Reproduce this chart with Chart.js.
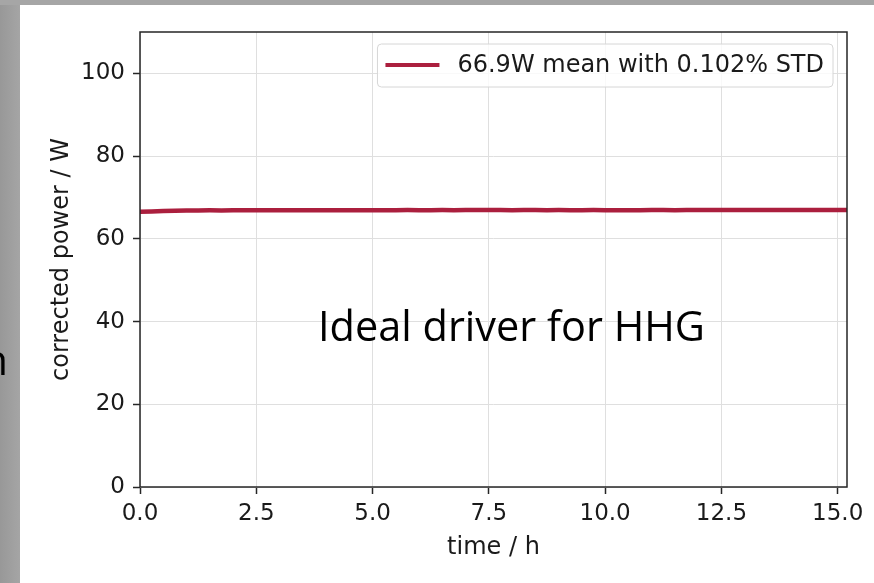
<!DOCTYPE html>
<html>
<head>
<meta charset="utf-8">
<script src="https://cdn.jsdelivr.net/npm/chart.js@4"></script>
<style>
  body { margin: 0; width: 874px; height: 583px; overflow: hidden;
         background: linear-gradient(to right, #989898 0px, #a5a5a5 20px); }
  #panel { position: absolute; left: 20px; top: 5px; right: 0; bottom: 0; background: #fff; }
  #topstrip { position: absolute; left: 0; top: 0; right: 0; height: 5px; background: #a6a6a6; }
  #c { position: absolute; left: 0; top: 0; }
</style>
</head>
<body>
<div id="topstrip"></div>
<div id="panel"></div>
<canvas id="c" width="874" height="583"></canvas>
<script>
// time / h
const times = [0, 0.25, 0.5, 0.75, 1, 1.25, 1.5, 1.75, 2, 2.25,
  2.5, 2.75, 3, 3.25, 3.5, 3.75, 4, 4.25, 4.5, 4.75,
  5, 5.25, 5.5, 5.75, 6, 6.25, 6.5, 6.75, 7, 7.25,
  7.5, 7.75, 8, 8.25, 8.5, 8.75, 9, 9.25, 9.5, 9.75,
  10, 10.25, 10.5, 10.75, 11, 11.25, 11.5, 11.75, 12, 12.25,
  12.5, 12.75, 13, 13.25, 13.5, 13.75, 14, 14.25, 14.5, 14.75,
  15, 15.25];

// corrected power / W
const power = [66.55, 66.62, 66.70, 66.78, 66.82, 66.85, 66.88, 66.86, 66.90, 66.89,
  66.91, 66.88, 66.90, 66.92, 66.89, 66.91, 66.90, 66.88, 66.90, 66.93,
  66.91, 66.89, 66.92, 66.94, 66.90, 66.92, 66.95, 66.93, 66.96, 66.94,
  66.97, 66.95, 66.93, 66.96, 66.94, 66.92, 66.95, 66.93, 66.91, 66.94,
  66.92, 66.90, 66.93, 66.91, 66.94, 66.96, 66.93, 66.95, 66.97, 66.95,
  66.98, 66.96, 66.94, 66.97, 66.95, 66.98, 66.96, 66.99, 66.97, 66.95,
  66.98, 66.96];

const seriesLabel = '66.9W mean with 0.102% STD';
const lineColor = '#ab1f3e';
const annotationText = 'Ideal driver for HHG';

const points = times.map((t, i) => ({ x: t, y: power[i] }));

// legend box, frame, text overlay
const decor = {
  id: 'decor',
  afterDraw(chart) {
    const ctx = chart.ctx;
    const a = chart.chartArea;

    // legend
    ctx.save();
    ctx.font = '24px "DejaVu Sans"';
    const tw = ctx.measureText(seriesLabel).width;
    const boxRight = a.right - 14;
    const textX = boxRight - 9 - tw;
    const lineEnd = textX - 18;
    const lineStart = lineEnd - 54;
    const boxLeft = lineStart - 8;
    const boxTop = a.top + 12;
    const rowY = a.top + 33;
    ctx.beginPath();
    ctx.roundRect(boxLeft, boxTop, boxRight - boxLeft, 43, 4);
    ctx.fillStyle = 'rgba(255,255,255,0.8)';
    ctx.fill();
    ctx.strokeStyle = '#d6d6d6';
    ctx.lineWidth = 1;
    ctx.stroke();
    ctx.beginPath();
    ctx.moveTo(lineStart, rowY);
    ctx.lineTo(lineEnd, rowY);
    ctx.strokeStyle = lineColor;
    ctx.lineWidth = 4;
    ctx.stroke();
    ctx.fillStyle = '#1a1a1a';
    ctx.textBaseline = 'middle';
    ctx.fillText(seriesLabel, textX, rowY + 1);
    ctx.restore();

    // frame
    ctx.save();
    ctx.strokeStyle = '#262626';
    ctx.lineWidth = 1.5;
    ctx.strokeRect(a.left, a.top, a.right - a.left, a.bottom - a.top);
    ctx.restore();

    // slide text on top of the plot
    ctx.save();
    ctx.font = '42px "Open Sans"';
    ctx.fillStyle = '#000';
    ctx.textBaseline = 'alphabetic';
    const w = ctx.measureText(annotationText).width;
    ctx.translate(318, 341);
    ctx.scale(387 / w, 1);
    ctx.fillText(annotationText, 0, 0);
    ctx.restore();

    // cut-off letter at the left edge of the slide
    ctx.save();
    ctx.font = '42px "Open Sans"';
    ctx.fillStyle = '#000';
    ctx.textAlign = 'right';
    ctx.fillText('n', 8, 375);
    ctx.restore();
  }
};

const ctx = document.getElementById('c').getContext('2d');
const chart = new Chart(ctx, {
  type: 'line',
  data: {
    datasets: [{
      label: seriesLabel,
      data: points,
      borderColor: lineColor,
      backgroundColor: lineColor,
      borderWidth: 4.5,
      pointRadius: 0,
      tension: 0
    }]
  },
  options: {
    responsive: false,
    animation: false,
    layout: { padding: { left: 0, top: 32, right: 27, bottom: 0 } },
    plugins: {
      legend: { display: false },
      tooltip: { enabled: false }
    },
    scales: {
      x: {
        type: 'linear',
        min: 0,
        max: 15.2,
        afterFit: s => { s.height = 96; },
        border: { display: false },
        grid: { color: '#dfdfdf', lineWidth: 1, tickColor: '#262626', tickLength: 7, tickWidth: 1.5 },
        ticks: {
          stepSize: 2.5,
          includeBounds: false,
          padding: 6,
          color: '#1a1a1a',
          font: { family: 'DejaVu Sans', size: 23 },
          maxRotation: 0,
          callback: v => v.toFixed(1)
        },
        title: {
          display: true,
          text: 'time / h',
          color: '#1a1a1a',
          font: { family: 'DejaVu Sans', size: 24 },
          padding: { top: 0, bottom: 21 }
        }
      },
      y: {
        min: 0,
        max: 110,
        afterFit: s => { s.width = 140; },
        border: { display: false },
        grid: { color: '#dfdfdf', lineWidth: 1, tickColor: '#262626', tickLength: 7, tickWidth: 1.5 },
        ticks: {
          stepSize: 20,
          includeBounds: false,
          padding: 8,
          color: '#1a1a1a',
          font: { family: 'DejaVu Sans', size: 23 }
        },
        title: {
          display: true,
          text: 'corrected power / W',
          color: '#1a1a1a',
          font: { family: 'DejaVu Sans', size: 24 },
          padding: { top: 47, bottom: 0 }
        }
      }
    }
  },
  plugins: [decor]
});
</script>
</body>
</html>
